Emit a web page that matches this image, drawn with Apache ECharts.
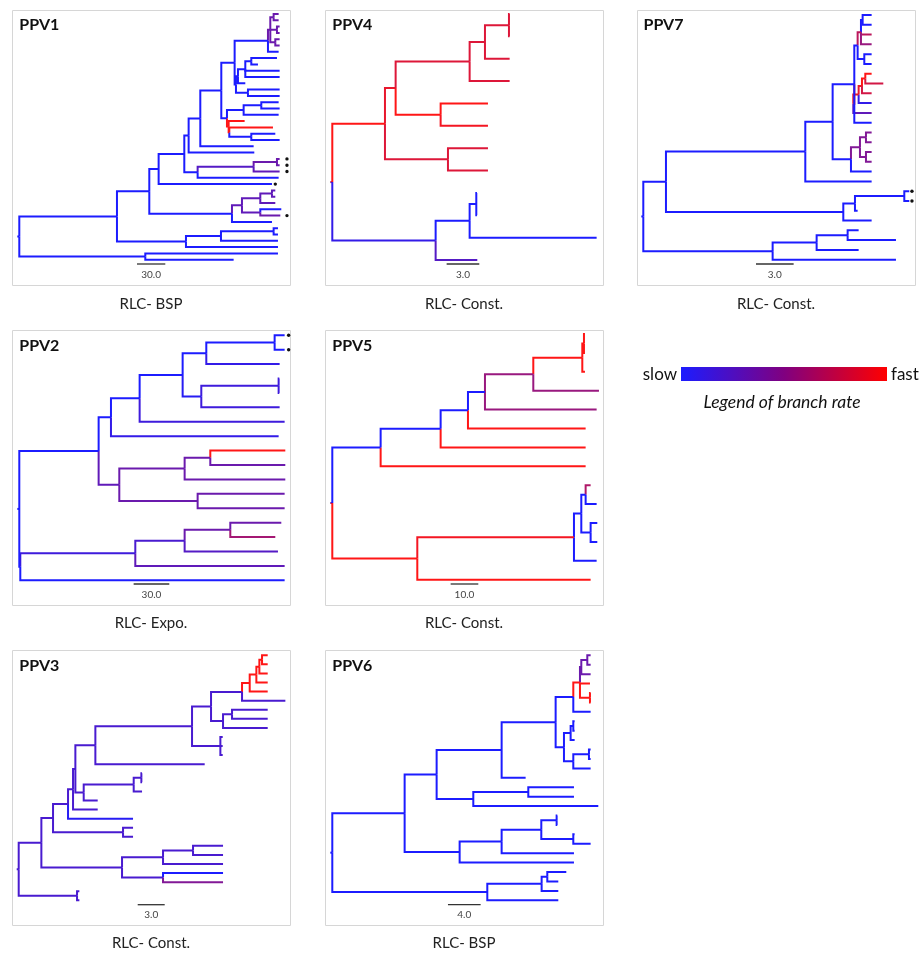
<!DOCTYPE html>
<html><head><meta charset="utf-8">
<script src="https://cdn.jsdelivr.net/npm/echarts@6/dist/echarts.min.js"></script>
<style>html,body{margin:0;padding:0;background:#fff}#c{width:921px;height:956px}</style>
</head><body><div id="c"></div><script>
// ---------- DATA ----------
// node = [depth, rate(0 slow .. 1 fast), children | dotDepth]; leaves listed top to bottom
const treeNames = ['PPV1','PPV4','PPV7','PPV2','PPV5','PPV3','PPV6'];
const modelLabels = ['RLC- BSP','RLC- Const.','RLC- Const.','RLC- Expo.','RLC- Const.','RLC- Const.','RLC- BSP'];
const scaleLabels = ['30.0','3.0','3.0','30.0','10.0','3.0','4.0'];
const scaleStart = [353, 343, 338, 343, 355, 357, 347];
const scaleLength = [85, 98, 113, 107, 83, 81, 98];

// PPV1
const ppv1P1 = [753, 0.35, [[763,0.35,[[778,0.35],[778,0.35]]], [773,0.35,[[781,0.35],[781,0.35]]], [768,0.35,[[781,0.35],[781,0.35]]]]];
const ppv1P0 = [746, 0, [ppv1P1, [778, 0]]];
const ppv1Q = [650, 0, [[656, 0, [[678, 0, [[696, 0, [[773,0],[716,0]]], [781,0], [781,0]]], [678, 0]]], [686, 0, [[781,0],[781,0]]]]];
const ppv1A1h = [646, 0, [ppv1P0, ppv1Q]];
const ppv1A1i = [623, 0, [[673, 0, [[726, 0, [[778,0],[781,0]]], [778, 0]]], [628, 1, [[676, 1], [630, 1, [[761, 1], [696, 0, [[768,0],[781,0]]]]]]]]];
const ppv1A1g = [606, 0, [ppv1A1h, ppv1A1i]];
const ppv1A1e = [535, 0, [[703, 0.25, [[773, 0.35, [[781,0.35,803],[781,0.35,803]]], [781, 0.3, 803]]], [778, 0]]];
const ppv1A1c = [495, 0, [[508, 0, [[543, 0, [ppv1A1g, [703, 0]]], [705, 0]]], ppv1A1e]];
const ppv1A1b = [638, 0, [[668, 0.3, [[723, 0.3, [[758, 0.3, [[768,0.3],[768,0.3]]], [768, 0.3]]], [723, 0.3, [[786, 0], [783, 0.35, 803]]]]], [758, 0]]];
const ppv1A1 = [390, 0, [[418, 0, [ppv1A1c, [758, 0, 768]]], ppv1A1b]];
const ppv1A2 = [500, 0, [[605, 0, [[763, 0, [[776,0],[776,0]]], [776, 0]]], [776, 0]]];
const ppv1Tree = [0, 0, [[293, 0, [ppv1A1, ppv1A2]], [378, 0, [[776, 0],[643, 0]]]]];

// PPV4
const ppv4Red = [158, 1, [[190, 0.9, [[412, 0.85, [[458, 0.85, [[530, 0.85, [[532,0.85],[532,0.85]]], [532, 0.85]]], [532, 0.85]]], [325, 1, [[467, 1],[467, 0.95]]]]], [347, 0.85, [[467, 0.85],[467, 0.85]]]]];
const ppv4Blue = [310, 0.1, [[412, 0, [[432, 0, [[434,0],[434,0]]], [793, 0]]], [435, 0.25]]];
const ppv4Tree = [0, 0.5, [ppv4Red, ppv4Blue]];

// PPV7
const ppv7C10 = [633, 0, [
  [643, 0, [[653, 0.7, [[658, 0, [[685,0],[685,0]]], [685, 0.7], [685, 0.55]]], [663, 0, [[685,0],[685,0]]]]],
  [630, 0.95, [[646, 0.9, [[656, 0.9, [[666, 1, [[685,1],[720,0.8]]], [685, 0.8]]], [685, 0.1]]], [685, 0.3]]],
  [685, 0]]];
const ppv7C11 = [623, 0, [[650, 0.45, [[668, 0.45, [[685,0.45],[685,0.45]]], [668, 0.45, [[685,0.45],[685,0.45]]]]], [685, 0]]];
const ppv7C6 = [600, 0, [[635, 0, [[783, 0, [[798,0,806],[798,0,806]]], [643, 0]]], [685, 0]]];
const ppv7Tree = [0, 0, [[68, 0, [[486, 0, [[568, 0, [ppv7C10, ppv7C11]], [685, 0]]], ppv7C6]], [388, 0, [[520, 0, [[613, 0, [[646,0],[758,0]]], [646, 0]]], [758, 0]]]]];

// PPV2
const ppv2Top = [275, 0, [[361, 0, [[490, 0, [[561, 0, [[766, 0, [[796,0,808],[796,0,808]]], [781, 0.1]]], [546, 0.05, [[778, 0.15, [[780,0.15],[780,0.15]]], [781, 0.15]]]]], [796, 0.15]]], [778, 0.1]]];
const ppv2Mid = [300, 0.3, [[496, 0.35, [[573, 0.35, [[798,1],[798,0.35]]], [798, 0.35]]], [535, 0.35, [[796,0.35],[796,0.35]]]]];
const ppv2Low = [3, 0, [[348, 0.15, [[496, 0.2, [[633, 0.35, [[786,0.35],[768,0.6]]], [776, 0.25]]], [796, 0.3]]], [796, 0]]];
const ppv2Tree = [0, 0, [[238, 0, [ppv2Top, ppv2Mid]], ppv2Low]];

// PPV5
const ppv5Upper = [145, 0, [[325, 0, [[407, 0, [[458, 0, [[603, 0.55, [[750, 1, [[755, 1, [[758,1],[758,1]]], [758, 1]]], [800, 0.55]]], [793, 0.55]]], [760, 1]]], [760, 1]]], [760, 1]]];
const ppv5Lower = [255, 1, [[725, 0.95, [[747, 0, [[760, 0, [[775,0.65],[793,0]]], [775, 0, [[795,0],[795,0]]]]], [793, 0]]], [775, 1]]];
const ppv5Tree = [0, 0.5, [ppv5Upper, ppv5Lower]];

// PPV3
const ppv3Top = [230, 0.2, [[520, 0.2, [[577, 0.2, [[670, 0.2, [[693, 1, [[713, 1, [[722, 1, [[730, 1, [[747,1],[747,1]]], [747, 1]]], [747, 1]]], [747, 1]]], [800, 0.2]]], [613, 0.2, [[640, 0.2, [[747,0.2],[747,0.2]]], [747, 0.2]]]]], [605, 0.2, [[612,0.2],[612,0.2],[612,0.2]]]]], [558, 0.2]]];
const ppv3Mid = [163, 0.2, [[170, 0.2, [ppv3Top, [195, 0.2, [[345, 0.2, [[368, 0.2, [[370,0.2],[370,0.2]]], [370, 0.2]]], [237, 0.2]]]]], [237, 0.2]]];
const ppv3Low = [310, 0.2, [[433, 0.2, [[523, 0.2, [[613,0.2],[613,0.2]]], [613, 0.2]]], [433, 0.2, [[613,0],[613,0.45]]]]];
const ppv3Tree = [0, 0.2, [[68, 0.2, [[103, 0.2, [[148, 0.2, [ppv3Mid, [343, 0.05]]], [313, 0.2, [[343,0.2],[343,0.2]]]]], ppv3Low]], [175, 0.2, [[182,0.2],[182,0.2]]]]];

// PPV6
const ppv6Upper = [313, 0, [[508, 0, [[670, 0, [[723, 0, [[743, 1, [[747, 0.35, [[765, 0.35, [[775,0.35],[775,0.35]]], [775, 0.35]]], [773, 1], [773, 1, [[775,1],[775,1]]]]], [775, 0]]], [695, 0, [[715, 0, [[723, 0, [[727,0],[727,0]]], [727, 0]]], [723, 0, [[770, 0, [[775,0],[775,0]]], [775, 0]]]]]]], [580, 0]]], [423, 0, [[588, 0, [[725,0],[725,0]]], [798, 0]]]]];
const ppv6Mid = [382, 0, [[508, 0, [[627, 0, [[673, 0, [[675,0],[675,0]]], [723, 0, [[727,0],[775,0]]]]], [725, 0]]], [725, 0]]];
const ppv6Low = [465, 0, [[628, 0, [[645, 0, [[702,0],[678,0]]], [678, 0]]], [678, 0]]];
const ppv6Tree = [0, 0, [[217, 0, [ppv6Upper, ppv6Mid]], ppv6Low]];

const trees = [ppv1Tree, ppv4Tree, ppv7Tree, ppv2Tree, ppv5Tree, ppv3Tree, ppv6Tree];

// ---------- LAYOUT / STYLE ----------
const panels = [
  {ox:12,  oy:9,   bx:12,  by:10,    root:7.3, first:5,   last:250.7, sb:255,   sl:265.7, lx:19.3,  ly:24.7, cy:303.8},
  {ox:324, oy:9,   bx:325, by:10,    root:8.3, first:5,   last:251,   sb:255,   sl:265.7, lx:332.3, ly:24.7, cy:303.8},
  {ox:636, oy:9,   bx:637, by:10,    root:7.3, first:6,   last:250.7, sb:255,   sl:265.7, lx:643.5, ly:24.7, cy:303.8},
  {ox:12,  oy:328, bx:12,  by:329.5, root:7.3, first:7.3, last:252.3, sb:256,   sl:266.7, lx:19.3,  ly:346.3, cy:623.3},
  {ox:324, oy:328, bx:325, by:329.5, root:8.3, first:6,   last:251.7, sb:256,   sl:266.7, lx:332.3, ly:346.3, cy:623.3},
  {ox:12,  oy:647, bx:12,  by:649.5, root:6.7, first:8.3, last:253.3, sb:257.7, sl:267.7, lx:19.3,  ly:666,   cy:943.3},
  {ox:324, oy:647, bx:325, by:649.5, root:8.3, first:8.3, last:253.3, sb:257.7, sl:267.7, lx:332.3, ly:666,   cy:943.3}
];
const BOX_W = 278, BOX_H = 275, ROOT_STUB = 6, PLOT_W = 272;
const FONT = 'Lato, "Open Sans", sans-serif';

function rateColor(r) {
  const a = [28, 28, 255], b = [255, 22, 22];
  return 'rgb(' + a.map((v, i) => Math.round(v + (b[i] - v) * r)).join(',') + ')';
}

function flatten(root) {
  const segs = [], dots = [];
  let leaf = 0;
  function place(n) {
    const kids = Array.isArray(n[2]) ? n[2] : null;
    if (!kids) {
      const y = leaf++;
      if (typeof n[2] === 'number') dots.push([n[2], y]);
      return y;
    }
    const ys = kids.map(place);
    const y = (ys[0] + ys[ys.length - 1]) / 2;
    kids.forEach((k, i) => segs.push([n[0], y, k[0], ys[i], k[1]]));
    return y;
  }
  const ry = place(root);
  segs.unshift([-ROOT_STUB, ry, root[0], ry, root[1]]);
  return {segs, dots, n: leaf};
}

const flat = trees.map(flatten);

const grids = [], xAxes = [], yAxes = [], series = [], graphics = [];
panels.forEach((p, i) => {
  const w = PLOT_W - p.root;
  grids.push({left: p.ox + p.root, top: p.oy + p.first, width: w, height: p.last - p.first});
  xAxes.push({gridIndex: i, type: 'value', min: 0, max: w * 3, show: false});
  yAxes.push({gridIndex: i, type: 'value', min: 0, max: flat[i].n - 1, inverse: true, show: false});
  series.push({
    type: 'custom', xAxisIndex: i, yAxisIndex: i, silent: true,
    encode: {x: [0, 2], y: [1, 3]},
    data: flat[i].segs,
    renderItem: (params, api) => {
      const p0 = api.coord([api.value(0), api.value(1)]);
      const p1 = api.coord([api.value(0), api.value(3)]);
      const p2 = api.coord([api.value(2), api.value(3)]);
      return {type: 'polyline', shape: {points: [p0, p1, p2]},
        style: {stroke: rateColor(api.value(4)), lineWidth: 2, fill: null, lineJoin: 'miter'}};
    }
  });
  if (flat[i].dots.length) {
    series.push({
      type: 'custom', xAxisIndex: i, yAxisIndex: i, silent: true,
      encode: {x: 0, y: 1},
      data: flat[i].dots,
      renderItem: (params, api) => {
        const c = api.coord([api.value(0), api.value(1)]);
        return {type: 'circle', shape: {cx: c[0], cy: c[1], r: 1.7}, style: {fill: '#111'}};
      }
    });
  }
  series.push({
    type: 'custom', xAxisIndex: i, yAxisIndex: i, silent: true,
    encode: {x: 0},
    data: [[scaleStart[i], scaleLength[i]]],
    renderItem: (params, api) => {
      const a = api.coord([api.value(0), 0])[0];
      const b = api.coord([api.value(0) + api.value(1), 0])[0];
      const y = p.oy + p.sb;
      return {type: 'group', children: [
        {type: 'line', shape: {x1: a, y1: y, x2: b, y2: y}, style: {stroke: '#333', lineWidth: 1.3}},
        {type: 'text', style: {text: scaleLabels[i], x: (a + b) / 2, y: p.oy + p.sl, align: 'center', verticalAlign: 'middle',
          fill: '#444', fontSize: 10, fontFamily: FONT}}
      ]};
    }
  });
  graphics.push({type: 'rect', silent: true, z: -1, shape: {x: p.bx + 0.5, y: Math.round(p.by) + 0.5, width: BOX_W, height: BOX_H},
    style: {fill: '#fff', stroke: '#d6d6d6', lineWidth: 1}});
  graphics.push({type: 'text', silent: true, x: p.lx, y: p.ly,
    style: {text: treeNames[i], fontSize: 16, fontWeight: 'bold', fontFamily: FONT, fill: '#111', align: 'left', verticalAlign: 'middle'}});
  graphics.push({type: 'text', silent: true, x: p.bx + BOX_W / 2, y: p.cy,
    style: {text: modelLabels[i], fontSize: 15, fontFamily: FONT, fill: '#222', align: 'center', verticalAlign: 'middle'}});
});

// legend of branch rate
graphics.push({type: 'rect', silent: true, shape: {x: 681, y: 367, width: 206, height: 14},
  style: {fill: new echarts.graphic.LinearGradient(0, 0, 1, 0, [{offset: 0, color: rateColor(0)}, {offset: 0.5, color: 'rgb(128,0,128)'}, {offset: 1, color: '#ff0000'}])}});
graphics.push({type: 'text', silent: true, x: 677, y: 375,
  style: {text: 'slow', fontSize: 17, fontFamily: FONT, fill: '#111', align: 'right', verticalAlign: 'middle'}});
graphics.push({type: 'text', silent: true, x: 891, y: 375,
  style: {text: 'fast', fontSize: 17, fontFamily: FONT, fill: '#111', align: 'left', verticalAlign: 'middle'}});
graphics.push({type: 'text', silent: true, x: 782, y: 402,
  style: {text: 'Legend of branch rate', fontSize: 17.5, fontStyle: 'italic', fontFamily: FONT, fill: '#111', align: 'center', verticalAlign: 'middle'}});

const chart = echarts.init(document.getElementById('c'), null, {renderer: 'canvas'});
chart.setOption({
  animation: false,
  backgroundColor: '#fff',
  grid: grids, xAxis: xAxes, yAxis: yAxes,
  series: series,
  graphic: graphics
});
</script></body></html>
